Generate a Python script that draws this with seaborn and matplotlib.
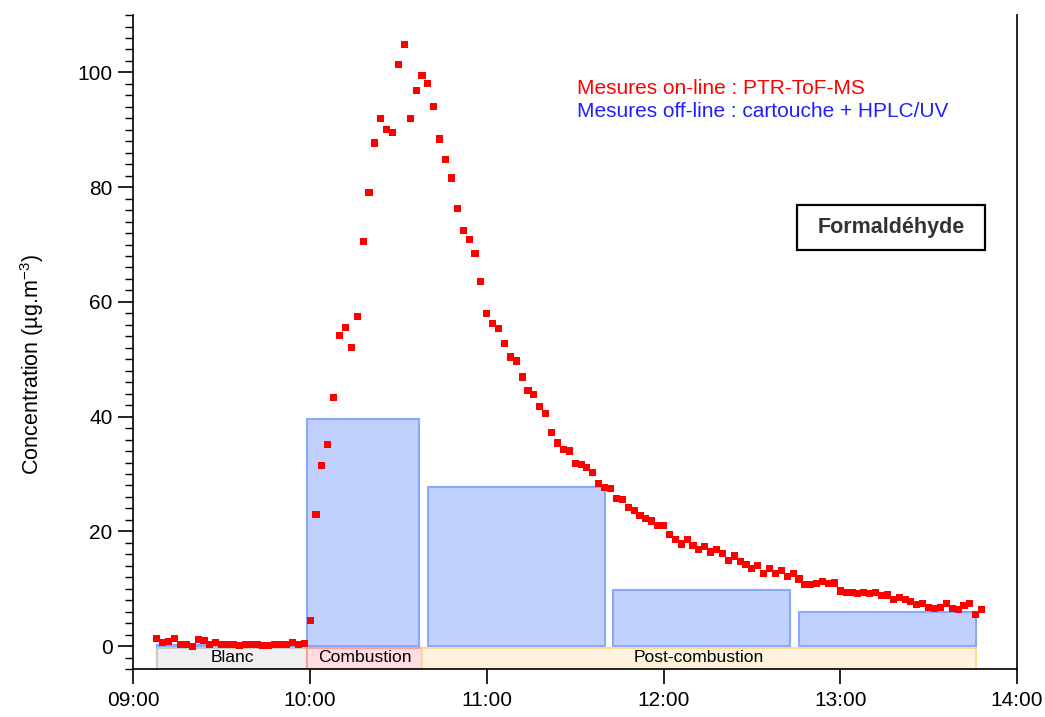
import numpy as np
import pandas as pd
import matplotlib
matplotlib.use("Agg")
import matplotlib.pyplot as plt
import matplotlib.dates as mdates
from matplotlib.patches import Rectangle
import seaborn as sns

# ---------------- data ----------------
times = [
    "09:08", "09:10", "09:12", "09:14", "09:16", "09:18", "09:20", "09:22", "09:24", "09:26",
    "09:28", "09:30", "09:32", "09:34", "09:36", "09:38", "09:40", "09:42", "09:44", "09:46",
    "09:48", "09:50", "09:52", "09:54", "09:56", "09:58", "10:00", "10:02", "10:04", "10:06",
    "10:08", "10:10", "10:12", "10:14", "10:16", "10:18", "10:20", "10:22", "10:24", "10:26",
    "10:28", "10:30", "10:32", "10:34", "10:36", "10:38", "10:40", "10:42", "10:44", "10:46",
    "10:48", "10:50", "10:52", "10:54", "10:56", "10:58", "11:00", "11:02", "11:04", "11:06",
    "11:08", "11:10", "11:12", "11:14", "11:16", "11:18", "11:20", "11:22", "11:24", "11:26",
    "11:28", "11:30", "11:32", "11:34", "11:36", "11:38", "11:40", "11:42", "11:44", "11:46",
    "11:48", "11:50", "11:52", "11:54", "11:56", "11:58", "12:00", "12:02", "12:04", "12:06",
    "12:08", "12:10", "12:12", "12:14", "12:16", "12:18", "12:20", "12:22", "12:24", "12:26",
    "12:28", "12:30", "12:32", "12:34", "12:36", "12:38", "12:40", "12:42", "12:44", "12:46",
    "12:48", "12:50", "12:52", "12:54", "12:56", "12:58", "13:00", "13:02", "13:04", "13:06",
    "13:08", "13:10", "13:12", "13:14", "13:16", "13:18", "13:20", "13:22", "13:24", "13:26",
    "13:28", "13:30", "13:32", "13:34", "13:36", "13:38", "13:40", "13:42", "13:44", "13:46",
    "13:48",
]
ptr_values = [
    1.3, 0.6, 0.75, 1.3, 0.2, 0.35, 0.0, 1.2, 1.05, 0.35,
    0.6, 0.2, 0.35, 0.25, 0.1, 0.25, 0.25, 0.2, 0.05, 0.1,
    0.2, 0.2, 0.35, 0.65, 0.35, 0.5, 4.4, 22.9, 31.4, 35.2,
    43.3, 54.2, 55.6, 52.0, 57.4, 70.6, 79.1, 87.7, 92.0, 90.1,
    89.6, 101.4, 104.9, 92.0, 96.9, 99.4, 98.0, 94.0, 88.4, 84.9,
    81.6, 76.2, 72.5, 70.8, 68.5, 63.6, 57.9, 56.2, 55.3, 52.8,
    50.4, 49.7, 46.9, 44.5, 43.8, 41.7, 40.6, 37.3, 35.4, 34.2,
    34.0, 31.8, 31.6, 31.2, 30.2, 28.3, 27.6, 27.4, 25.7, 25.5,
    24.1, 23.6, 22.7, 22.2, 21.8, 21.1, 21.0, 19.4, 18.5, 17.8,
    18.5, 17.6, 16.8, 17.3, 16.4, 16.8, 16.1, 14.9, 15.7, 14.7,
    14.3, 13.6, 14.0, 12.6, 13.5, 12.6, 13.1, 12.2, 12.6, 11.7,
    10.7, 10.7, 10.9, 11.2, 10.9, 11.0, 9.6, 9.3, 9.3, 9.1,
    9.3, 9.1, 9.3, 8.8, 8.9, 8.2, 8.4, 8.2, 7.7, 7.2,
    7.4, 6.8, 6.5, 6.7, 7.4, 6.5, 6.3, 7.0, 7.4, 5.5,
    6.3,
]

# off-line cartridge samples
cart_start = ["09:08", "09:59", "10:40", "11:43", "12:46"]
cart_end = ["09:59", "10:37", "11:40", "12:43", "13:46"]
cart_values = [0.2, 39.6, 27.7, 9.7, 6.0]

# experiment phases
phase_names = ["Blanc", "Combustion", "Post-combustion"]
phase_start = ["09:08", "09:59", "10:38"]
phase_end = ["09:59", "10:38", "13:46"]
phase_fill = ["#f0f0f0", "#ffdde0", "#fff3de"]
phase_edge = ["#c8c8c8", "#ff9c9c", "#ffd898"]

# ---------------- helpers ----------------
day = "2020-01-01 "
def to_num(lst):
    return mdates.date2num(pd.to_datetime([day + t for t in lst]))

df = pd.DataFrame({"time": pd.to_datetime([day + t for t in times]),
                   "conc": ptr_values})

# ---------------- figure ----------------
sns.set_theme(style="ticks")
plt.rcParams["font.family"] = ["Liberation Sans", "DejaVu Sans"]
plt.rcParams["mathtext.default"] = "regular"
plt.rcParams["text.color"] = "black"
plt.rcParams["xtick.color"] = "black"
plt.rcParams["ytick.color"] = "black"
plt.rcParams["axes.labelcolor"] = "black"

fig = plt.figure(figsize=(10.45, 7.17), dpi=100)
ax = fig.add_axes([0.1276, 0.0669, 0.8456, 0.9121])

ymin, ymax = -4.0, 110.0

# cartridge bars
cs = to_num(cart_start)
ce = to_num(cart_end)
ax.bar(cs, cart_values, width=ce - cs, align="edge", bottom=0,
       color="#c0d0ff", edgecolor="#8aa8ff", linewidth=1.5, zorder=2)

# phase bands
ps = to_num(phase_start)
pe = to_num(phase_end)
ax.bar(ps, [-0.3 - ymin] * len(ps), width=pe - ps, align="edge", bottom=ymin,
       color=phase_fill, edgecolor=phase_edge, linewidth=1.5, zorder=2)
for name, a, b in zip(phase_names, ps, pe):
    ax.text((a + b) / 2, (ymin - 0.3) / 2 + 0.15, name, ha="center", va="center",
            fontsize=12.6, color="black", zorder=3)

# PTR points
sns.scatterplot(data=df, x="time", y="conc", ax=ax, marker="s", s=26,
                color="#ff0000", edgecolor="none", linewidth=0, zorder=4,
                legend=False)

ax.set_xlim(mdates.date2num(pd.Timestamp(day + "09:00")),
            mdates.date2num(pd.Timestamp(day + "14:00")))
ax.set_ylim(ymin, ymax)

ax.xaxis.set_major_locator(mdates.HourLocator())
ax.xaxis.set_major_formatter(mdates.DateFormatter("%H:%M"))
ax.yaxis.set_major_locator(matplotlib.ticker.MultipleLocator(20))
ax.yaxis.set_minor_locator(matplotlib.ticker.MultipleLocator(2))

ax.tick_params(axis="x", which="major", length=11, width=1.2, labelsize=15,
               direction="out", pad=5, color="black", labelcolor="black")
ax.tick_params(axis="y", which="major", length=11, width=1.2, labelsize=15,
               direction="out", pad=4, color="black", labelcolor="black")
ax.tick_params(axis="y", which="minor", length=5.5, width=1.0, direction="out",
               color="black")

for side in ["left", "bottom", "right"]:
    ax.spines[side].set_color("black")
    ax.spines[side].set_linewidth(1.2)
ax.spines["top"].set_visible(False)

ax.set_xlabel("")
ax.set_ylabel(r"Concentration (µg.m$^{-3}$)", fontsize=15.5, color="black")
ax.yaxis.set_label_coords(-0.099, 0.466)

# annotations
ax.text(0.502, 0.887, "Mesures on-line : PTR-ToF-MS", transform=ax.transAxes,
        color="#ff0000", fontsize=15, ha="left", va="center")
ax.text(0.502, 0.852, "Mesures off-line : cartouche + HPLC/UV", transform=ax.transAxes,
        color="#2020ff", fontsize=15, ha="left", va="center")

ax.add_patch(Rectangle((0.751, 0.641), 0.213, 0.068, transform=ax.transAxes,
                       facecolor="white", edgecolor="black", linewidth=1.6, zorder=5))
ax.text(0.8575, 0.675, "Formaldéhyde", transform=ax.transAxes, fontsize=15.5,
        fontweight="bold", color="#333333", ha="center", va="center", zorder=6)

fig.savefig("out.png", dpi=100)
